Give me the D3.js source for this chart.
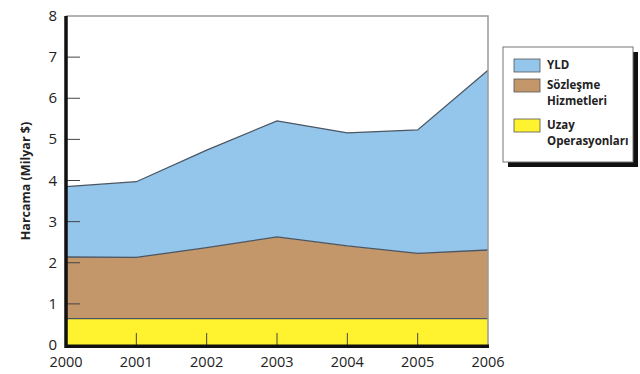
<!DOCTYPE html>
<html>
<head>
<meta charset="utf-8">
<script src="https://cdn.jsdelivr.net/npm/d3@7"></script>
<style>
  body { margin: 0; background: #fff; }
  svg { display: block; font-family: "Open Sans", sans-serif; }
</style>
</head>
<body>
<script>
// data
var years = [2000, 2001, 2002, 2003, 2004, 2005, 2006];
var uzay = [0.64, 0.64, 0.64, 0.64, 0.64, 0.64, 0.64];
var sozlesme = [1.50, 1.49, 1.73, 1.99, 1.77, 1.59, 1.67];
var yld = [1.71, 1.84, 2.37, 2.82, 2.75, 3.00, 4.37];
var yTicks = [0, 1, 2, 3, 4, 5, 6, 7, 8];
var seriesNames = ["YLD", "Sözleşme\nHizmetleri", "Uzay\nOperasyonları"];
var seriesColours = ["#94c5ea", "#c4976a", "#fff22e"];

var margin = {top: 16, right: 152, bottom: 29, left: 66};
var width = 640 - margin.left - margin.right;
var height = 374 - margin.top - margin.bottom;

var svg = d3.select("body").append("svg")
  .attr("width", 640)
  .attr("height", 374);

var g = svg.append("g")
  .attr("transform", "translate(" + margin.left + "," + margin.top + ")");

var x = d3.scaleLinear().domain([2000, 2006]).range([0, width]);
var y = d3.scaleLinear().domain([0, 8]).range([height, 0]);

// stack the three series, bottom to top
var table = years.map(function(yr, i) {
  return {year: yr, uzay: uzay[i], sozlesme: sozlesme[i], yld: yld[i]};
});
var stack = d3.stack().keys(["uzay", "sozlesme", "yld"]);
var layers = stack(table);
var fills = {uzay: seriesColours[2], sozlesme: seriesColours[1], yld: seriesColours[0]};

var area = d3.area()
  .x(function(d) { return x(d.data.year); })
  .y0(function(d) { return y(d[0]); })
  .y1(function(d) { return y(d[1]); });

var topLine = d3.line()
  .x(function(d) { return x(d.data.year); })
  .y(function(d) { return y(d[1]); });

g.selectAll("path.layer")
  .data(layers)
  .enter()
  .append("path")
    .attr("class", "layer")
    .attr("fill", function(d) { return fills[d.key]; })
    .attr("d", area);

g.selectAll("path.edge")
  .data(layers)
  .enter()
  .append("path")
    .attr("class", "edge")
    .attr("fill", "none")
    .attr("stroke", "#4b5662")
    .attr("stroke-width", 1.3)
    .attr("d", topLine);

// frame: thin grey top and right
g.append("path")
  .attr("d", "M0,0H" + width + "V" + height)
  .attr("fill", "none")
  .attr("stroke", "#9a9a9a")
  .attr("stroke-width", 1.5);

// inner tick marks
g.selectAll("line.ytick")
  .data(yTicks.slice(1, -1))
  .enter()
  .append("line")
    .attr("class", "ytick")
    .attr("x1", 0).attr("x2", 14)
    .attr("y1", function(d) { return y(d); })
    .attr("y2", function(d) { return y(d); })
    .attr("stroke", "#444")
    .attr("stroke-width", 1);

g.selectAll("line.xtick")
  .data(years.slice(1, -1))
  .enter()
  .append("line")
    .attr("class", "xtick")
    .attr("x1", function(d) { return x(d); })
    .attr("x2", function(d) { return x(d); })
    .attr("y1", height).attr("y2", height - 12)
    .attr("stroke", "#444")
    .attr("stroke-width", 1);

// thick axis lines
g.append("path")
  .attr("d", "M0,0V" + (height + 1.2) + "H" + (width + 1))
  .attr("fill", "none")
  .attr("stroke", "#111")
  .attr("stroke-width", 3.5);

// tick labels
g.selectAll("text.ylab")
  .data(yTicks)
  .enter()
  .append("text")
    .attr("class", "ylab")
    .attr("x", -9)
    .attr("y", function(d) { return y(d); })
    .attr("dy", "0.34em")
    .attr("text-anchor", "end")
    .attr("font-size", 15)
    .attr("fill", "#222")
    .text(function(d) { return d; });

g.selectAll("text.xlab")
  .data(years)
  .enter()
  .append("text")
    .attr("class", "xlab")
    .attr("x", function(d) { return x(d); })
    .attr("y", height + 22)
    .attr("text-anchor", "middle")
    .attr("font-size", 14.5)
    .attr("fill", "#222")
    .text(function(d) { return d; });

svg.append("text")
  .attr("transform", "translate(30,181) rotate(-90)")
  .attr("text-anchor", "middle")
  .attr("font-size", 12.5)
  .attr("font-weight", "bold")
  .attr("fill", "#222")
  .text("Harcama (Milyar $)");

// legend with drop shadow
var legend = svg.append("g").attr("transform", "translate(503,47)");
legend.append("rect")
  .attr("x", 5).attr("y", 5)
  .attr("width", 130).attr("height", 115)
  .attr("fill", "#111");
legend.append("rect")
  .attr("width", 130).attr("height", 115)
  .attr("fill", "#fff")
  .attr("stroke", "#777")
  .attr("stroke-width", 1);

var legendY = [12, 32, 72];
var items = legend.selectAll("g.item")
  .data(seriesNames)
  .enter()
  .append("g")
    .attr("class", "item")
    .attr("transform", function(d, i) { return "translate(11," + legendY[i] + ")"; });

items.append("rect")
  .attr("width", 26).attr("height", 13)
  .attr("fill", function(d, i) { return seriesColours[i]; })
  .attr("stroke", "#555")
  .attr("stroke-width", 0.8);

items.append("text")
  .attr("x", 33)
  .attr("y", 10)
  .attr("font-size", 11.5)
  .attr("font-weight", 700)
  .attr("fill", "#222")
  .selectAll("tspan")
  .data(function(d) { return d.split("\n"); })
  .enter()
  .append("tspan")
    .attr("x", 33)
    .attr("dy", function(d, i) { return i ? 16 : 0; })
    .text(function(d) { return d; });
</script>
</body>
</html>
